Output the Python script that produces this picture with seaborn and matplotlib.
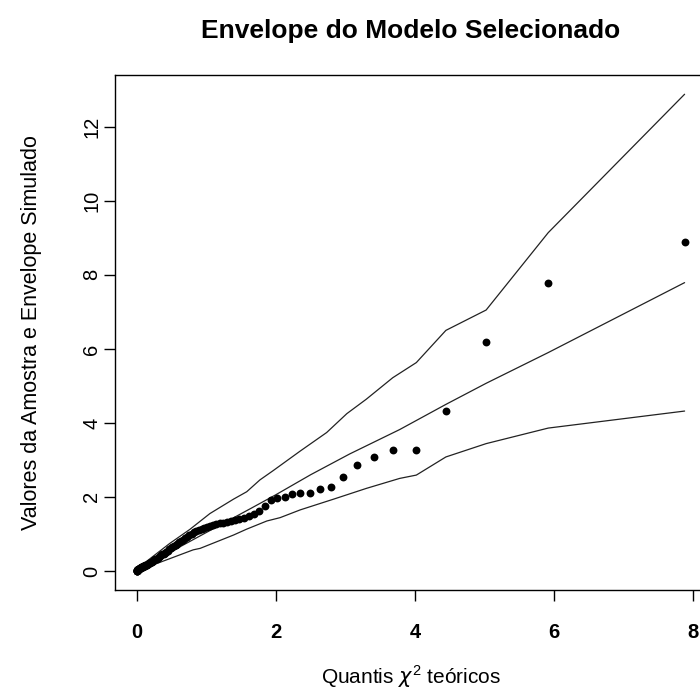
import matplotlib
matplotlib.use("Agg")
import matplotlib.pyplot as plt
import seaborn as sns
import pandas as pd

# Theoretical chi-square(1) quantiles (x) and ordered sample values (y)
quantis = [
    0.00004, 0.00035, 0.00098, 0.00193, 0.00318, 0.00476, 0.00665, 0.00886, 0.01139, 0.01424,
    0.01742, 0.02092, 0.02475, 0.02891, 0.03339, 0.03822, 0.04339, 0.04889, 0.05475, 0.06095,
    0.06751, 0.07442, 0.08171, 0.08935, 0.09737, 0.10578, 0.11458, 0.12375, 0.13333, 0.14332,
    0.15373, 0.16455, 0.17580, 0.18751, 0.19965, 0.21226, 0.22534, 0.23890, 0.25296, 0.26752,
    0.28260, 0.29822, 0.31438, 0.33112, 0.34843, 0.36635, 0.38488, 0.40406, 0.42389, 0.44441,
    0.46564, 0.48760, 0.51033, 0.53384, 0.55817, 0.58336, 0.60945, 0.63645, 0.66444, 0.69342,
    0.72349, 0.75468, 0.78702, 0.82062, 0.85551, 0.89176, 0.92947, 0.96871, 1.00958, 1.05220,
    1.09665, 1.14308, 1.19161, 1.24245, 1.29570, 1.35159, 1.41035, 1.47214, 1.53742, 1.60638,
    1.67943, 1.75698, 1.83963, 1.92782, 2.02234, 2.12407, 2.23401, 2.35349, 2.48412, 2.62790,
    2.78753, 2.96659, 3.17010, 3.40500, 3.68200, 4.01860, 4.44510, 5.02390, 5.91650, 7.87940,
]
amostra = [
    0.000, 0.003, 0.006, 0.010, 0.014, 0.018, 0.022, 0.027, 0.031, 0.036,
    0.042, 0.047, 0.052, 0.058, 0.064, 0.069, 0.075, 0.081, 0.088, 0.095,
    0.101, 0.108, 0.114, 0.121, 0.128, 0.135, 0.143, 0.152, 0.161, 0.172,
    0.183, 0.195, 0.207, 0.222, 0.237, 0.252, 0.268, 0.284, 0.301, 0.318,
    0.336, 0.356, 0.377, 0.399, 0.421, 0.445, 0.470, 0.496, 0.523, 0.551,
    0.580, 0.610, 0.640, 0.672, 0.705, 0.740, 0.775, 0.810, 0.846, 0.882,
    0.920, 0.962, 1.000, 1.040, 1.080, 1.115, 1.140, 1.165, 1.190, 1.215,
    1.240, 1.262, 1.285, 1.305, 1.328, 1.350, 1.372, 1.400, 1.435, 1.478,
    1.550, 1.620, 1.760, 1.910, 1.970, 2.010, 2.070, 2.100, 2.110, 2.220,
    2.280, 2.550, 2.860, 3.070, 3.260, 3.265, 4.320, 6.180, 7.770, 8.880,
]

# Envelope curves
sup_x = [0.0, 0.14, 0.47, 0.76, 1.05, 1.39, 1.58, 1.77, 1.96, 2.35, 2.73, 3.02, 3.30,
         3.68, 4.02, 4.445, 5.024, 5.917, 7.879]
sup_y = [0.0, 0.26, 0.74, 1.12, 1.55, 1.94, 2.14, 2.46, 2.71, 3.24, 3.74, 4.25, 4.64,
         5.22, 5.63, 6.50, 7.05, 9.14, 12.88]
med_x = [0.0, 0.5, 1.0, 1.63, 2.0, 2.5, 3.06, 3.78, 4.445, 5.024, 5.917, 7.879]
med_y = [0.0, 0.53, 1.04, 1.68, 2.06, 2.60, 3.16, 3.82, 4.50, 5.07, 5.90, 7.79]
inf_x = [0.0, 0.2, 0.47, 0.81, 0.91, 1.19, 1.39, 1.58, 1.87, 2.06, 2.35, 2.83, 3.30,
         3.78, 4.02, 4.445, 5.024, 5.917, 7.879]
inf_y = [0.0, 0.14, 0.33, 0.57, 0.61, 0.82, 0.97, 1.13, 1.35, 1.44, 1.65, 1.94, 2.23,
         2.50, 2.59, 3.08, 3.44, 3.86, 4.32]

x_ticks = [0, 2, 4, 6, 8]
y_ticks = [0, 2, 4, 6, 8, 10, 12]

sns.set_theme(style="white")
plt.rcParams["font.family"] = ["Liberation Sans", "DejaVu Sans"]
plt.rcParams["mathtext.fontset"] = "custom"
plt.rcParams["mathtext.rm"] = "Liberation Sans"
plt.rcParams["mathtext.it"] = "DejaVu Sans:italic"
plt.rcParams["text.color"] = "black"
plt.rcParams["axes.labelcolor"] = "black"
plt.rcParams["xtick.color"] = "black"
plt.rcParams["ytick.color"] = "black"

fig = plt.figure(figsize=(7.0, 6.95), dpi=100)
ax = fig.add_axes([115 / 700, 1 - 590 / 695, (706.5 - 115) / 700, (590 - 75) / 695])

pts = pd.DataFrame({"x": quantis, "y": amostra})
sns.scatterplot(data=pts, x="x", y="y", ax=ax, color="black", s=32,
                edgecolor="black", linewidth=0, zorder=3)
for ex, ey in [(sup_x, sup_y), (med_x, med_y), (inf_x, inf_y)]:
    env = pd.DataFrame({"x": ex, "y": ey})
    sns.lineplot(data=env, x="x", y="y", ax=ax, color="#222222", linewidth=0.9,
                 sort=False, estimator=None, zorder=2)

ax.set_xlim(-0.315, 8.194)
ax.set_ylim(-0.515, 13.4)
ax.set_xticks(x_ticks)
ax.set_yticks(y_ticks)
ax.set_xticklabels([str(t) for t in x_ticks], fontweight="bold", fontsize=14.5)
ax.set_yticklabels([str(t) for t in y_ticks], fontsize=14.5, rotation=90, va="center")
ax.tick_params(axis="both", direction="out", length=8, width=1, color="black",
               labelcolor="black", bottom=True, left=True)
ax.tick_params(axis="x", pad=16)
ax.tick_params(axis="y", pad=2)
for sp in ax.spines.values():
    sp.set_color("black")
    sp.set_linewidth(1.0)

ax.set_title("Envelope do Modelo Selecionado", fontsize=19, fontweight="bold",
             pad=27, color="black")
ax.set_xlabel(r"Quantis $\chi^{2}$ teóricos", fontsize=15, labelpad=15)
ax.set_ylabel("Valores da Amostra e Envelope Simulado", fontsize=15.5, labelpad=29)

fig.savefig("out.png", dpi=100)
